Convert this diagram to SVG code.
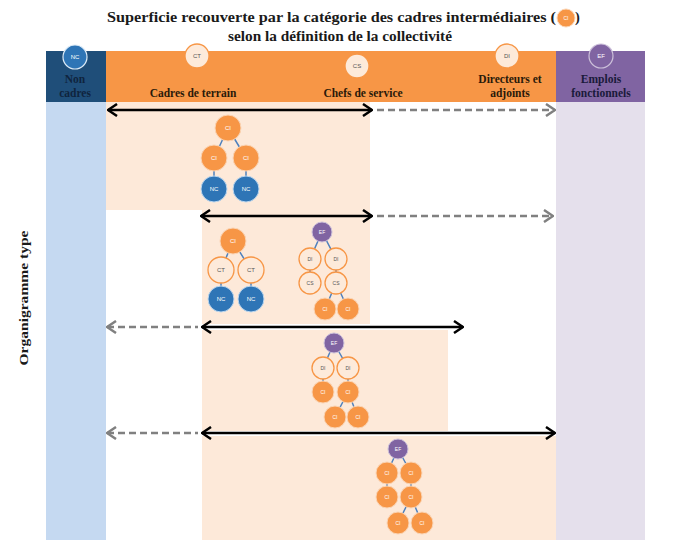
<svg xmlns="http://www.w3.org/2000/svg" width="679" height="551" viewBox="0 0 679 551">
<style>
.title{font-family:"Liberation Serif","DejaVu Serif",serif;font-weight:bold;font-size:14.5px;fill:#1a1a1a}
.hd{font-family:"Liberation Serif","DejaVu Serif",serif;font-weight:bold;font-size:11.5px;text-anchor:middle}
.ci{fill:#F79646;stroke:#FBD5B5;stroke-width:1}
.nc{fill:#2E75B6;stroke:#BDD7EE;stroke-width:1}
.lt{fill:#FDEADA;stroke:#F79646;stroke-width:1.3}
.ef{fill:#8064A2;stroke:#CCC0DA;stroke-width:1}
.lbl{font-family:"Liberation Sans",Arial,sans-serif;font-size:6px;text-anchor:middle;dominant-baseline:central}
.lw{fill:#ffffff}
.ld{fill:#555555}
.edge{stroke:#4F81BD;stroke-width:1.5;fill:none}
.blk{stroke:#000;stroke-width:2.5;fill:none}
.dsh{stroke:#808080;stroke-width:2.5;stroke-dasharray:7 4;fill:none}
</style>
<defs>
<marker id="hb" viewBox="0 0 11 14" refX="10" refY="7" markerWidth="11" markerHeight="14" markerUnits="userSpaceOnUse" orient="auto-start-reverse">
<path d="M1,1 L10,7 L1,13" fill="none" stroke="#000" stroke-width="2.5"/>
</marker>
<marker id="hg" viewBox="0 0 11 14" refX="10" refY="7" markerWidth="11" markerHeight="14" markerUnits="userSpaceOnUse" orient="auto-start-reverse">
<path d="M1,1 L10,7 L1,13" fill="none" stroke="#808080" stroke-width="2.5"/>
</marker>
</defs>
<rect width="679" height="551" fill="#ffffff"/>

<g id="title">
<text class="title" x="107" y="22" textLength="449" lengthAdjust="spacingAndGlyphs">Superficie recouverte par la catégorie des cadres intermédiaires (</text>
<circle class="ci" cx="566" cy="18" r="9"/>
<text class="lbl lw" x="566" y="18" style="font-size:5px">CI</text>
<text class="title" x="575" y="22">)</text>
<text class="title" x="340" y="41" text-anchor="middle" textLength="224" lengthAdjust="spacingAndGlyphs">selon la définition de la collectivité</text>
</g>

<g id="background">
<rect x="46" y="102" width="60" height="438" fill="#C5D9F1"/>
<rect x="556" y="102" width="89" height="438" fill="#E5E0EC"/>
<rect x="106" y="102" width="264" height="108" fill="#FDE9D9"/>
<rect x="202" y="210" width="168" height="114" fill="#FDE9D9"/>
<rect x="202" y="330" width="246" height="101" fill="#FDE9D9"/>
<rect x="202" y="436" width="354" height="104" fill="#FDE9D9"/>
</g>

<g id="header">
<rect x="46" y="51" width="60" height="51" fill="#1F4E79"/>
<rect x="106" y="51" width="450" height="51" fill="#F79646"/>
<rect x="556" y="51" width="89" height="51" fill="#8064A2"/>
</g>
<g id="h-nc">
<circle cx="75" cy="57" r="12" fill="#2E75B6" stroke="#DDEBF7" stroke-width="1.2"/>
<text class="lbl lw" x="75" y="57">NC</text>
<text class="hd" x="75" y="83" fill="#0F243E">Non</text>
<text class="hd" x="75" y="97" fill="#0F243E">cadres</text>
</g>
<g id="h-ct">
<circle class="lt" cx="197" cy="56" r="12" stroke="#FCE4D6"/>
<text class="lbl ld" x="197" y="56">CT</text>
<text class="hd" x="193" y="97" fill="#2a1a0a">Cadres de terrain</text>
</g>
<g id="h-cs">
<circle class="lt" cx="357" cy="66" r="12" stroke="#FCE4D6"/>
<text class="lbl ld" x="357" y="66">CS</text>
<text class="hd" x="363" y="97" fill="#2a1a0a">Chefs de service</text>
</g>
<g id="h-di">
<circle class="lt" cx="507" cy="56" r="12" stroke="#FCE4D6"/>
<text class="lbl ld" x="507" y="56">DI</text>
<text class="hd" x="510" y="83" fill="#2a1a0a">Directeurs et</text>
<text class="hd" x="510" y="97" fill="#2a1a0a">adjoints</text>
</g>
<g id="h-ef">
<circle cx="601" cy="56" r="12" fill="#8064A2" stroke="#CCC0DA" stroke-width="1.2"/>
<text class="lbl lw" x="601" y="56">EF</text>
<text class="hd" x="601" y="83" fill="#1a1a3a">Emplois</text>
<text class="hd" x="601" y="97" fill="#1a1a3a">fonctionnels</text>
</g>

<text x="28" y="298" transform="rotate(-90 28 298)" text-anchor="middle" class="title" style="font-size:12.5px" textLength="135" lengthAdjust="spacingAndGlyphs">Organigramme type</text>

<g id="connectors">
<line class="blk" x1="108" y1="110" x2="372" y2="110" marker-start="url(#hb)" marker-end="url(#hb)"/>
<line class="dsh" x1="377" y1="110" x2="555" y2="110" marker-end="url(#hg)"/>
<line class="blk" x1="201" y1="216" x2="372" y2="216" marker-start="url(#hb)" marker-end="url(#hb)"/>
<line class="dsh" x1="377" y1="216" x2="553" y2="216" marker-end="url(#hg)"/>
<line class="dsh" x1="107" y1="327" x2="198" y2="327" marker-start="url(#hg)"/>
<line class="blk" x1="202" y1="327" x2="463" y2="327" marker-start="url(#hb)" marker-end="url(#hb)"/>
<line class="dsh" x1="107" y1="433" x2="198" y2="433" marker-start="url(#hg)"/>
<line class="blk" x1="202" y1="433" x2="555" y2="433" marker-start="url(#hb)" marker-end="url(#hb)"/>
<path class="edge" d="M228,128 L214,158 M228,128 L246,158 M214,158 L214,189 M246,158 L246,189"/>
<path class="edge" d="M233,241 L221,270 M233,241 L251,270 M221,270 L221,299 M251,270 L251,299"/>
<path class="edge" d="M322,232 L310,259 M322,232 L336,259 M310,259 L310,283 M336,259 L336,283 M336,283 L325,309 M336,283 L348,309"/>
<path class="edge" d="M334,343 L323,368 M334,343 L348,368 M323,368 L323,392 M348,368 L348,392 M348,392 L335,417 M348,392 L358,417"/>
<path class="edge" d="M398,449 L387,473 M398,449 L411,473 M387,473 L387,497 M411,473 L411,497 M411,497 L398,523 M411,497 L422,523"/>
</g>

<g id="t1-ci"><circle class="ci" cx="228" cy="128" r="13"/><text class="lbl lw" x="228" y="128">CI</text></g>
<g id="t1-ci1"><circle class="ci" cx="214" cy="158" r="13"/><text class="lbl lw" x="214" y="158">CI</text></g>
<g id="t1-ci2"><circle class="ci" cx="246" cy="158" r="13"/><text class="lbl lw" x="246" y="158">CI</text></g>
<g id="t1-nc1"><circle class="nc" cx="214" cy="189" r="13"/><text class="lbl lw" x="214" y="189">NC</text></g>
<g id="t1-nc2"><circle class="nc" cx="246" cy="189" r="13"/><text class="lbl lw" x="246" y="189">NC</text></g>

<g id="t2-ci"><circle class="ci" cx="233" cy="241" r="13"/><text class="lbl lw" x="233" y="241">CI</text></g>
<g id="t2-ct1"><circle class="lt" cx="221" cy="270" r="13"/><text class="lbl ld" x="221" y="270">CT</text></g>
<g id="t2-ct2"><circle class="lt" cx="251" cy="270" r="13"/><text class="lbl ld" x="251" y="270">CT</text></g>
<g id="t2-nc1"><circle class="nc" cx="221" cy="299" r="13"/><text class="lbl lw" x="221" y="299">NC</text></g>
<g id="t2-nc2"><circle class="nc" cx="251" cy="299" r="13"/><text class="lbl lw" x="251" y="299">NC</text></g>

<g id="t2b-ef"><circle class="ef" cx="322" cy="232" r="10"/><text class="lbl lw" x="322" y="232" style="font-size:5px">EF</text></g>
<g id="t2b-di1"><circle class="lt" cx="310" cy="259" r="11"/><text class="lbl ld" x="310" y="259" style="font-size:5px">DI</text></g>
<g id="t2b-di2"><circle class="lt" cx="336" cy="259" r="11"/><text class="lbl ld" x="336" y="259" style="font-size:5px">DI</text></g>
<g id="t2b-cs1"><circle class="lt" cx="310" cy="283" r="11"/><text class="lbl ld" x="310" y="283" style="font-size:5px">CS</text></g>
<g id="t2b-cs2"><circle class="lt" cx="336" cy="283" r="11"/><text class="lbl ld" x="336" y="283" style="font-size:5px">CS</text></g>
<g id="t2b-ci1"><circle class="ci" cx="325" cy="309" r="11"/><text class="lbl lw" x="325" y="309" style="font-size:5px">CI</text></g>
<g id="t2b-ci2"><circle class="ci" cx="348" cy="309" r="11"/><text class="lbl lw" x="348" y="309" style="font-size:5px">CI</text></g>

<g id="t3-ef"><circle class="ef" cx="334" cy="343" r="10"/><text class="lbl lw" x="334" y="343" style="font-size:5px">EF</text></g>
<g id="t3-di1"><circle class="lt" cx="323" cy="368" r="11"/><text class="lbl ld" x="323" y="368" style="font-size:5px">DI</text></g>
<g id="t3-di2"><circle class="lt" cx="348" cy="368" r="11"/><text class="lbl ld" x="348" y="368" style="font-size:5px">DI</text></g>
<g id="t3-ci1"><circle class="ci" cx="323" cy="392" r="11"/><text class="lbl lw" x="323" y="392" style="font-size:5px">CI</text></g>
<g id="t3-ci2"><circle class="ci" cx="348" cy="392" r="11"/><text class="lbl lw" x="348" y="392" style="font-size:5px">CI</text></g>
<g id="t3-ci3"><circle class="ci" cx="335" cy="417" r="11"/><text class="lbl lw" x="335" y="417" style="font-size:5px">CI</text></g>
<g id="t3-ci4"><circle class="ci" cx="358" cy="417" r="11"/><text class="lbl lw" x="358" y="417" style="font-size:5px">CI</text></g>

<g id="t4-ef"><circle class="ef" cx="398" cy="449" r="10"/><text class="lbl lw" x="398" y="449" style="font-size:5px">EF</text></g>
<g id="t4-ci1"><circle class="ci" cx="387" cy="473" r="11"/><text class="lbl lw" x="387" y="473" style="font-size:5px">CI</text></g>
<g id="t4-ci2"><circle class="ci" cx="411" cy="473" r="11"/><text class="lbl lw" x="411" y="473" style="font-size:5px">CI</text></g>
<g id="t4-ci3"><circle class="ci" cx="387" cy="497" r="11"/><text class="lbl lw" x="387" y="497" style="font-size:5px">CI</text></g>
<g id="t4-ci4"><circle class="ci" cx="411" cy="497" r="11"/><text class="lbl lw" x="411" y="497" style="font-size:5px">CI</text></g>
<g id="t4-ci5"><circle class="ci" cx="398" cy="523" r="11"/><text class="lbl lw" x="398" y="523" style="font-size:5px">CI</text></g>
<g id="t4-ci6"><circle class="ci" cx="422" cy="523" r="11"/><text class="lbl lw" x="422" y="523" style="font-size:5px">CI</text></g>
</svg>
